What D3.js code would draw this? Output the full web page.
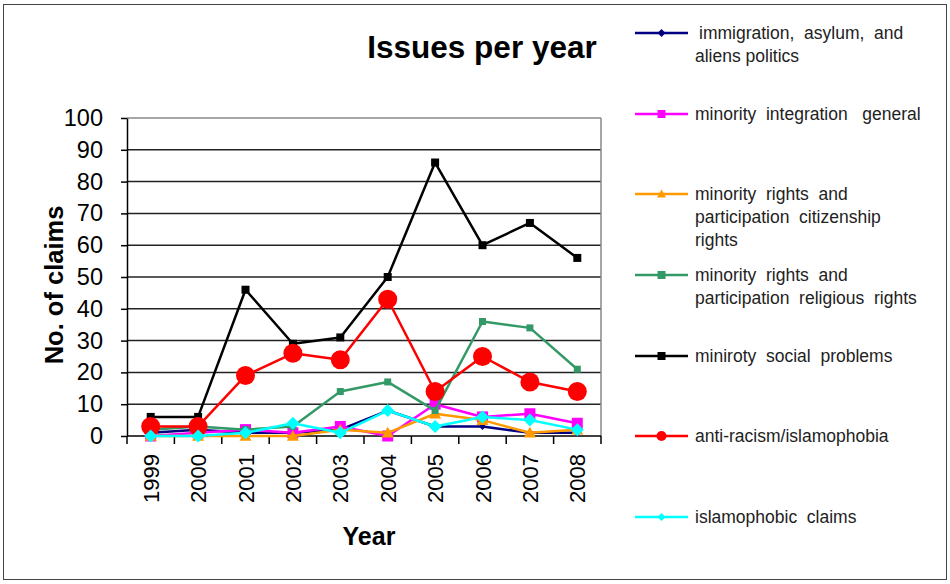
<!DOCTYPE html>
<html>
<head>
<meta charset="utf-8">
<script src="https://cdn.jsdelivr.net/npm/d3@7"></script>
<style>
  html, body { margin: 0; padding: 0; background: #fff; }
  svg { display: block; font-family: "Liberation Sans", Arial, sans-serif; }
</style>
</head>
<body>
<svg id="chart" width="950" height="584"></svg>
<script>
// Claims per issue, 1999–2008
const years = ["1999","2000","2001","2002","2003","2004","2005","2006","2007","2008"];
const immigration   = [1, 2, 1, 1, 2, 8, 3, 3, 1, 1];
const integration   = [0, 1, 2, 1, 3, 0, 10, 6, 7, 4];
const citizenship   = [0, 0, 0, 0, 2, 1, 7, 5, 1, 2];
const religious     = [2, 3, 2, 3, 14, 17, 8, 36, 34, 21];
const socialProbs   = [6, 6, 46, 29, 31, 50, 86, 60, 67, 56];
const antiRacism    = [3, 3, 19, 26, 24, 43, 14, 25, 17, 14];
const islamophobic  = [0, 0, 1, 4, 1, 8, 3, 6, 5, 2];
const yTicks = [0, 10, 20, 30, 40, 50, 60, 70, 80, 90, 100];

const series = [
  { name: ["immigration,  asylum,  and", "aliens politics"], values: immigration, color: "#000080", shape: "diamond", size: 7 },
  { name: ["minority  integration   general"], values: integration, color: "#ff00ff", shape: "square", size: 11 },
  { name: ["minority  rights  and", "participation  citizenship", "rights"], values: citizenship, color: "#ff9900", shape: "triangle", size: 12 },
  { name: ["minority  rights  and", "participation  religious  rights"], values: religious, color: "#339966", shape: "square", size: 7 },
  { name: ["miniroty  social  problems"], values: socialProbs, color: "#000000", shape: "square", size: 8 },
  { name: ["anti-racism/islamophobia"], values: antiRacism, color: "#ff0000", shape: "circle", size: 19 },
  { name: ["islamophobic  claims"], values: islamophobic, color: "#00ffff", shape: "diamond", size: 13 }
];
const legendY = [33, 114, 194, 275, 356, 436, 517];

const svg = d3.select("#chart");

// outer frame
svg.append("rect").attr("x", 3.5).attr("y", 4.5).attr("width", 943).attr("height", 575)
  .attr("fill", "#fff").attr("stroke", "#444").attr("stroke-width", 1);

const plot = { left: 127, right: 601, top: 118, bottom: 436 };

const x = d3.scaleBand().domain(years).range([plot.left, plot.right]);
const y = d3.scaleLinear().domain([0, 100]).range([plot.bottom, plot.top]);

// horizontal gridlines
svg.append("g").selectAll("line").data(yTicks.filter(d => d > 0 && d < 100)).join("line")
  .attr("x1", plot.left).attr("x2", plot.right)
  .attr("y1", d => y(d)).attr("y2", d => y(d))
  .attr("stroke", "#222").attr("stroke-width", 1.5);

// plot frame (top and right in gray)
svg.append("line").attr("x1", plot.left).attr("x2", plot.right).attr("y1", plot.top).attr("y2", plot.top)
  .attr("stroke", "#888").attr("stroke-width", 1.5);
svg.append("line").attr("x1", plot.right).attr("x2", plot.right).attr("y1", plot.top).attr("y2", plot.bottom)
  .attr("stroke", "#888").attr("stroke-width", 1.5);

// y axis
const yAxis = svg.append("g").attr("transform", `translate(${plot.left},0)`)
  .call(d3.axisLeft(y).tickValues(yTicks).tickSize(6).tickPadding(18).tickSizeOuter(0));
yAxis.select(".domain").attr("stroke", "#000").attr("stroke-width", 1.5);
yAxis.selectAll(".tick line").attr("stroke", "#000").attr("stroke-width", 1.5);
yAxis.selectAll("text").attr("font-size", 23.5).attr("fill", "#000")
  .attr("font-family", "'Liberation Sans', Arial, sans-serif");

// x axis: ticks on category boundaries
const xAxis = svg.append("g").attr("transform", `translate(0,${plot.bottom})`);
xAxis.append("line").attr("x1", plot.left).attr("x2", plot.right).attr("stroke", "#000").attr("stroke-width", 1.5);
const bounds = years.map(d => x(d)).concat([x(years[years.length - 1]) + x.bandwidth()]);
xAxis.selectAll("line.tk").data(bounds).join("line").attr("class", "tk")
  .attr("x1", d => d).attr("x2", d => d).attr("y1", 0).attr("y2", 8)
  .attr("stroke", "#000").attr("stroke-width", 1.5);
xAxis.selectAll("text").data(years).join("text")
  .attr("transform", d => `translate(${x(d) + x.bandwidth() / 2 + 8},18) rotate(-90)`)
  .attr("text-anchor", "end").attr("font-size", 22).attr("fill", "#000")
  .text(d => d);

// axis titles
svg.append("text").attr("transform", "translate(63,285) rotate(-90)")
  .attr("text-anchor", "middle").attr("font-size", 25.5).attr("font-weight", "bold")
  .text("No. of claims");
svg.append("text").attr("x", 369).attr("y", 545).attr("text-anchor", "middle")
  .attr("font-size", 25).attr("font-weight", "bold").text("Year");

// chart title
svg.append("text").attr("x", 482).attr("y", 58).attr("text-anchor", "middle")
  .attr("font-size", 31.5).attr("font-weight", "bold").text("Issues per year");

function markerPath(shape, size) {
  const s = size / 2;
  if (shape === "diamond") return `M0,${-s}L${s},0L0,${s}L${-s},0Z`;
  if (shape === "square") return `M${-s},${-s}H${s}V${s}H${-s}Z`;
  if (shape === "triangle") return `M0,${-s}L${s},${s * 0.8}L${-s},${s * 0.8}Z`;
  return d3.symbol(d3.symbolCircle, Math.PI * s * s)();
}

const line = d3.line()
  .x((d, i) => x(years[i]) + x.bandwidth() / 2)
  .y(d => y(d));

series.forEach(s => {
  const g = svg.append("g");
  g.append("path").attr("d", line(s.values)).attr("fill", "none")
    .attr("stroke", s.color).attr("stroke-width", 2.5).attr("stroke-linejoin", "round");
  g.selectAll("path.m").data(s.values).join("path").attr("class", "m")
    .attr("transform", (d, i) => `translate(${x(years[i]) + x.bandwidth() / 2},${y(d)})`)
    .attr("d", markerPath(s.shape, s.size)).attr("fill", s.color);
});

// legend
const legend = svg.append("g");
series.forEach((s, i) => {
  const ly = legendY[i];
  const g = legend.append("g");
  g.append("line").attr("x1", 635).attr("x2", 688).attr("y1", ly).attr("y2", ly)
    .attr("stroke", s.color).attr("stroke-width", 2.5);
  const ms = s.shape === "circle" ? 10 : (s.shape === "triangle" ? 9 : 8);
  g.append("path").attr("transform", `translate(661.5,${ly})`)
    .attr("d", markerPath(s.shape, ms)).attr("fill", s.color);
  s.name.forEach((t, k) => {
    g.append("text").attr("x", i === 0 && k === 0 ? 699 : 695).attr("y", ly + 6 + k * 23)
      .attr("font-size", 17.5).attr("fill", "#222").attr("xml:space", "preserve")
      .style("white-space", "pre").text(t);
  });
});
</script>
</body>
</html>
